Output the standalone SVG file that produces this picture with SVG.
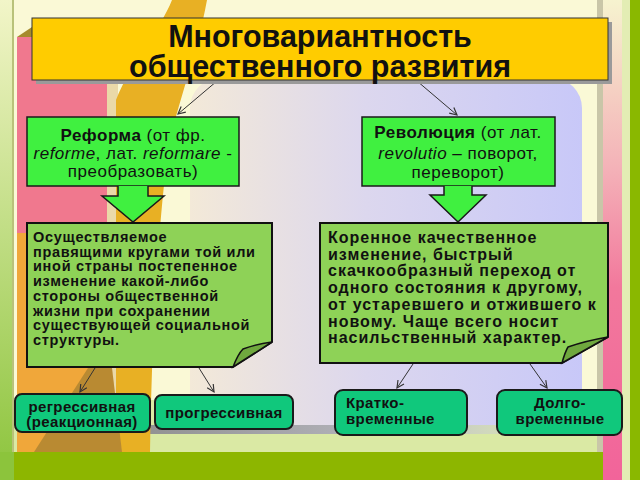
<svg xmlns="http://www.w3.org/2000/svg" width="640" height="480" viewBox="0 0 640 480">
<defs>
<style>
.t{font-family:"Liberation Sans",Arial,sans-serif;fill:#111}
.b{font-weight:bold}
.i{font-style:italic}
.box{stroke:#1a1a1a;stroke-width:1.5}
.leaf{fill:#10C87C;stroke:#1a1a1a;stroke-width:2}
.conn{stroke:#333;stroke-width:1;fill:none;marker-end:url(#ah)}
</style>
<marker id="ah" viewBox="0 0 10 10" refX="9" refY="5" markerWidth="9" markerHeight="9" orient="auto" markerUnits="userSpaceOnUse"><path d="M1,1 L9,5 L1,9" fill="none" stroke="#333" stroke-width="1.3"/></marker>
<linearGradient id="leftStrip" x1="0" y1="0" x2="0" y2="1"><stop offset="0" stop-color="#F2F5C8"/><stop offset="1" stop-color="#8CC43C"/></linearGradient>
<linearGradient id="lav" x1="0" y1="0" x2="1" y2="0"><stop offset="0" stop-color="#F3E9D8"/><stop offset="0.45" stop-color="#DCD7EE"/><stop offset="1" stop-color="#C8C8F8"/></linearGradient>
<linearGradient id="pinkS" x1="0" y1="0" x2="0" y2="1"><stop offset="0" stop-color="#F6F3CF"/><stop offset="0.35" stop-color="#F4B2B8"/><stop offset="0.6" stop-color="#F2789C"/><stop offset="1" stop-color="#F2649A"/></linearGradient>
<linearGradient id="shadow" x1="0" y1="0" x2="1" y2="0"><stop offset="0" stop-color="#8f8f8f"/><stop offset="0.6" stop-color="#B8B8C0"/><stop offset="1" stop-color="#D8D8E8" stop-opacity="0"/></linearGradient>
</defs>

<g id="background">
<rect x="0" y="0" width="640" height="480" fill="#FAF9D6"/>
<rect x="0" y="0" width="13" height="480" fill="url(#leftStrip)"/>
<rect x="12" y="0" width="2" height="452" fill="#B9C27A"/>
<rect x="14" y="400" width="584" height="52" fill="#DAE9A4"/>
<rect x="190" y="78" width="392" height="347" rx="30" fill="url(#lav)"/>
<rect x="130" y="425" width="450" height="9" fill="url(#shadow)"/>
<rect x="17" y="37" width="90" height="196" fill="#F0788E"/>
<polygon points="17,37 32,27 32,37" fill="#A58A2C"/>
<rect x="17" y="233" width="90" height="219" fill="#F0A73A"/>
<rect x="107" y="40" width="11" height="412" fill="#EAD9A8"/>
<path d="M172,0 L207,0 C196,60 178,100 168,150 C158,230 152,330 150,452 L116,452 L116,100 C132,60 160,30 172,0 Z" fill="#E8B024"/>
<polygon points="88,368 112,368 122,452 34,452" fill="#B98A32"/>
<rect x="597" y="0" width="6" height="452" fill="#C9C6A8"/>
<rect x="603" y="0" width="19" height="480" fill="url(#pinkS)"/>
<rect x="622" y="0" width="8" height="480" fill="#E3EDB4"/>
<rect x="630" y="0" width="10" height="480" fill="#8AB800"/>
<polygon points="0,480 14,452 603,452 603,480" fill="#8DB600"/>
<rect x="0" y="452" width="14" height="28" fill="#8CC43C"/>
</g>

<g id="connectors">
<line class="conn" x1="217" y1="81" x2="178" y2="114"/>
<line class="conn" x1="417" y1="81" x2="457" y2="115"/>
<line class="conn" x1="95" y1="368" x2="80" y2="392"/>
<line class="conn" x1="199" y1="368" x2="214" y2="392"/>
<line class="conn" x1="413" y1="364" x2="397" y2="388"/>
<line class="conn" x1="530" y1="364" x2="547" y2="388"/>
</g>

<g id="title">
<rect x="36" y="22" width="576" height="62" fill="#9A9A9A"/>
<rect x="32" y="18" width="576" height="62" fill="#FFCC00" stroke="#333" stroke-width="1"/>
<text class="t b" x="320" y="47" font-size="30.5" text-anchor="middle">Многовариантность</text>
<text class="t b" x="320" y="77" font-size="30.5" text-anchor="middle">общественного развития</text>
</g>

<g id="reform">
<rect class="box" x="27" y="117" width="212" height="69" fill="#40F040"/>
<text class="t" x="133" y="141" font-size="17" letter-spacing="0.5" text-anchor="middle"><tspan class="b">Реформа</tspan> (от фр.</text>
<text class="t" x="133" y="159" font-size="17" letter-spacing="0.5" text-anchor="middle"><tspan class="i">reforme</tspan>, лат. <tspan class="i">reformare</tspan> -</text>
<text class="t" x="133" y="177" font-size="17" letter-spacing="0.5" text-anchor="middle">преобразовать)</text>
<path class="box" d="M118,186 V196 H102 L133,222 L164,196 H148 V186" fill="#40F040"/>
</g>

<g id="revolution">
<rect class="box" x="362" y="117" width="193" height="69" fill="#40F040"/>
<text class="t" x="458" y="138" font-size="17" letter-spacing="0.5" text-anchor="middle"><tspan class="b">Революция</tspan> (от лат.</text>
<text class="t" x="458" y="159" font-size="17" letter-spacing="0.5" text-anchor="middle"><tspan class="i">revolutio</tspan> – поворот,</text>
<text class="t" x="458" y="178" font-size="17" letter-spacing="0.5" text-anchor="middle">переворот)</text>
<path class="box" d="M444,186 V195 H430 L458,222 L486,195 H472 V186" fill="#40F040"/>
</g>

<g id="reform-def">
<path d="M27,223 H272 V342 L233,367 H27 Z" fill="#8ED257" stroke="#111" stroke-width="2"/>
<path d="M233,367 Q238,354 243,349 Q256,344 272,342 Z" fill="#6FA83E" stroke="#111" stroke-width="1.5"/>
<g class="t b" font-size="14.5" letter-spacing="0.7">
<text x="33" y="242">Осуществляемое</text>
<text x="33" y="256.7">правящими кругами той или</text>
<text x="33" y="271.4">иной страны постепенное</text>
<text x="33" y="286.1">изменение какой-либо</text>
<text x="33" y="300.8">стороны общественной</text>
<text x="33" y="315.5">жизни при сохранении</text>
<text x="33" y="330.2">существующей социальной</text>
<text x="33" y="345">структуры.</text>
</g>
</g>

<g id="revolution-def">
<path d="M320,223 H608 V337 L562,363 H320 Z" fill="#8ED257" stroke="#111" stroke-width="2"/>
<path d="M562,363 Q565,352 568,347 Q585,341 608,337 Z" fill="#6FA83E" stroke="#111" stroke-width="1.5"/>
<g class="t b" font-size="16" letter-spacing="1">
<text x="328" y="243">Коренное качественное</text>
<text x="328" y="259.7">изменение, быстрый</text>
<text x="328" y="276.4">скачкообразный переход от</text>
<text x="328" y="293.1">одного состояния к другому,</text>
<text x="328" y="309.8">от устаревшего и отжившего к</text>
<text x="328" y="326.5">новому. Чаще всего носит</text>
<text x="328" y="343.2">насильственный характер.</text>
</g>
</g>

<g id="regressive">
<rect class="leaf" x="15" y="394" width="135" height="38" rx="7"/>
<text class="t b" x="82" y="412" font-size="15" letter-spacing="0.4" text-anchor="middle">регрессивная</text>
<text class="t b" x="82" y="427" font-size="15" letter-spacing="0.4" text-anchor="middle">(реакционная)</text>
</g>

<g id="progressive">
<rect class="leaf" x="155" y="395" width="138" height="34" rx="7"/>
<text class="t b" x="224" y="418" font-size="15" letter-spacing="0.4" text-anchor="middle">прогрессивная</text>
</g>

<g id="short-term">
<rect class="leaf" x="335" y="390" width="132" height="45" rx="8"/>
<text class="t b" x="346" y="408" font-size="15" letter-spacing="0.4">Кратко-</text>
<text class="t b" x="346" y="424" font-size="15" letter-spacing="0.4">временные</text>
</g>

<g id="long-term">
<rect class="leaf" x="497" y="390" width="125" height="45" rx="8"/>
<text class="t b" x="560" y="408" font-size="15" letter-spacing="0.4" text-anchor="middle">Долго-</text>
<text class="t b" x="560" y="424" font-size="15" letter-spacing="0.4" text-anchor="middle">временные</text>
</g>
</svg>
